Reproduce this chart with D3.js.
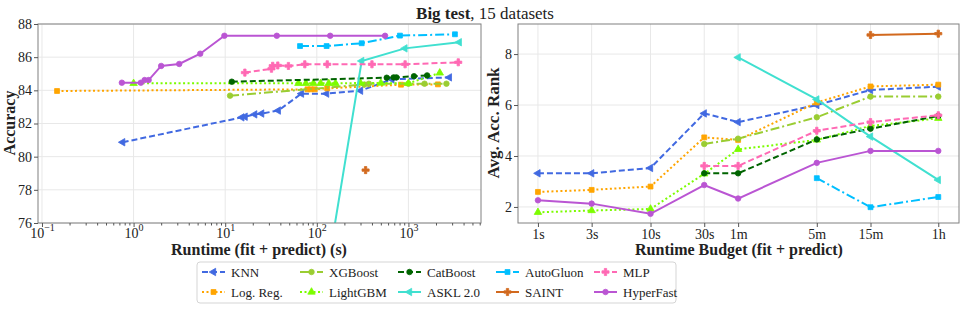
<!DOCTYPE html>
<meta charset="utf-8">
<title>Big test, 15 datasets</title>
<style>
body { margin: 0; background: #fff; }
svg text { font-family: "Liberation Serif", "DejaVu Serif", serif; fill: #222; }
.grid line { stroke: #e8e8e8; stroke-width: 1; }
.frame { fill: none; stroke: #808080; stroke-width: 1; }
.axis path { display: none; }
.axis line { stroke: #555; }
.axis text { font-size: 14px; }
</style>
<body>
<script src="https://cdnjs.cloudflare.com/ajax/libs/d3/7.8.5/d3.min.js"></script>
<script>
'use strict';

// ---- left panel: runtime (s) vs accuracy ----
const knnTime = [0.76, 15.2, 16.5, 21, 25, 38, 68, 128, 300, 660, 2800];
const knnAcc  = [80.87, 82.37, 82.41, 82.55, 82.6, 82.78, 83.8, 83.8, 83.98, 84.66, 84.78];
const lrTime = [0.146, 79, 86, 95, 130, 830, 2100];
const lrAcc  = [83.96, 84.06, 84.06, 84.06, 84.12, 84.34, 84.36];
const xgbTime = [11.3, 330, 370, 1000, 1500, 2600];
const xgbAcc  = [83.68, 84.35, 84.4, 84.4, 84.4, 84.4];
const lgbTime = [1.0, 63, 76, 92, 110, 135, 160, 300, 500, 1000, 2200];
const lgbAcc  = [84.42, 84.42, 84.42, 84.42, 84.42, 84.42, 84.42, 84.44, 84.44, 84.42, 85.05];
const catTime = [11.8, 580, 690, 740, 1150, 1600];
const catAcc  = [84.52, 84.76, 84.78, 84.78, 84.85, 84.9];
const askTime = [100, 309, 916, 3590];
const askAcc  = [69.3, 85.77, 86.53, 86.9];
const agTime = [65.6, 128, 309, 808, 3220];
const agAcc  = [86.67, 86.67, 86.84, 87.3, 87.38];
const saintTime = [341];
const saintAcc  = [79.19];
const mlpTime = [16.4, 32, 33, 37.5, 49, 74, 130, 400, 920, 3500];
const mlpAcc  = [85.07, 85.3, 85.48, 85.5, 85.47, 85.57, 85.57, 85.57, 85.57, 85.69];
const hfTime = [0.745, 1.2, 1.32, 1.46, 2.0, 3.15, 5.34, 9.8, 36.6, 140, 556];
const hfAcc  = [84.46, 84.46, 84.62, 84.62, 85.47, 85.59, 86.21, 87.29, 87.29, 87.29, 87.29];

// ---- right panel: budget vs average accuracy rank ----
const budgetLabels = ["1s", "3s", "10s", "30s", "1m", "5m", "15m", "1h"];
const budgetSec = [1, 3, 10, 30, 60, 300, 900, 3600];
const knnRank = [3.32, 3.32, 3.53, 5.67, 5.33, 6.0, 6.59, 6.72];
const lrRank  = [2.59, 2.67, 2.8, 4.73, 4.63, 6.1, 6.73, 6.8];
const xgbRank = [null, null, null, 4.47, 4.68, 5.52, 6.33, 6.33];
const lgbRank = [1.79, 1.86, 1.92, 3.3, 4.26, 4.63, 5.18, 5.48];
const catRank = [null, null, null, 3.32, 3.32, 4.65, 5.07, 5.57];
const askRank = [null, null, null, null, 7.87, 6.22, 4.76, 3.06];
const agRank  = [null, null, null, null, null, 3.13, 1.99, 2.39];
const saintRank = [null, null, null, null, null, null, 8.75, 8.8];
const mlpRank = [null, null, null, 3.61, 3.61, 4.99, 5.33, 5.6];
const hfRank  = [2.26, 2.13, 1.73, 2.86, 2.33, 3.73, 4.2, 4.2];

const methods = [
  {name: "KNN",       color: "#4169e1", dash: "6,3",     marker: "left",    t: knnTime,   a: knnAcc,   r: knnRank},
  {name: "Log. Reg.", color: "#ffa500", dash: "2,2.5",   marker: "square",  t: lrTime,    a: lrAcc,    r: lrRank},
  {name: "XGBoost",   color: "#9acd32", dash: "9,3,2,3", marker: "diamond", t: xgbTime,   a: xgbAcc,   r: xgbRank},
  {name: "LightGBM",  color: "#7cfc00", dash: "2,2.5",   marker: "up",      t: lgbTime,   a: lgbAcc,   r: lgbRank},
  {name: "CatBoost",  color: "#006400", dash: "6,3",     marker: "circle",  t: catTime,   a: catAcc,   r: catRank},
  {name: "ASKL 2.0",  color: "#40e0d0", dash: null,      marker: "left",    t: askTime,   a: askAcc,   r: askRank},
  {name: "AutoGluon", color: "#00bfff", dash: "9,3,2,3", marker: "square",  t: agTime,    a: agAcc,    r: agRank},
  {name: "SAINT",     color: "#d2691e", dash: null,      marker: "plus",    t: saintTime, a: saintAcc, r: saintRank},
  {name: "MLP",       color: "#ff69b4", dash: "6,3",     marker: "plus",    t: mlpTime,   a: mlpAcc,   r: mlpRank},
  {name: "HyperFast", color: "#ba55d3", dash: null,      marker: "circle",  t: hfTime,    a: hfAcc,    r: hfRank}
];

const W = 969, H = 310;
const svg = d3.select("body").append("svg").attr("width", W).attr("height", H);

const symType = {
  left: d3.symbolTriangle, up: d3.symbolTriangle, square: d3.symbolSquare,
  diamond: d3.symbolCircle, circle: d3.symbolCircle, plus: d3.symbolCross
};
var drawMarker = function(g, m, x, y, color) {
  g.append("path")
    .attr("d", d3.symbol().type(symType[m]).size(m === "plus" ? 28 : 24)())
    .attr("transform", "translate(" + x + "," + y + ")" + (m === "left" ? " rotate(-90)" : ""))
    .attr("fill", color).attr("stroke", color).attr("stroke-width", 0.8);
};

var drawSeries = function(g, pts, xs, ys, d) {
  const line = d3.line().x((p) => xs(p[0])).y((p) => ys(p[1]));
  g.append("path").datum(pts)
    .attr("d", line).attr("fill", "none")
    .attr("stroke", d.color).attr("stroke-width", 2)
    .attr("stroke-dasharray", d.dash);
  pts.forEach((p) => drawMarker(g, d.marker, xs(p[0]), ys(p[1]), d.color));
};

var sup = function(sel, exp) {
  sel.text("10").append("tspan").attr("dy", -7).attr("font-size", "10px").text(exp);
};

// ================= left panel =================
const L = {x0: 38, x1: 481, y0: 24, y1: 223};
const xL = d3.scaleLog().domain([0.0905, 6200]).range([L.x0, L.x1]);
const yL = d3.scaleLinear().domain([76, 88]).range([L.y1, L.y0]);
const gL = svg.append("g");

const xMajor = [0.1, 1, 10, 100, 1000];
const xMinor = [];
[0.1, 1, 10, 100, 1000].forEach((b) => { for (let k = 2; k <= 9; k++) if (b * k < 6200) xMinor.push(b * k); });
const yTicksL = d3.range(76, 89, 2);

const gridL = gL.append("g").attr("class", "grid");
gridL.selectAll(".v").data(xMajor).enter().append("line")
  .attr("x1", (d) => xL(d)).attr("x2", (d) => xL(d)).attr("y1", L.y0).attr("y2", L.y1);
gridL.selectAll(".h").data(yTicksL).enter().append("line")
  .attr("x1", L.x0).attr("x2", L.x1).attr("y1", (d) => yL(d)).attr("y2", (d) => yL(d));

gL.append("clipPath").attr("id", "clipL").append("rect")
  .attr("x", L.x0).attr("y", L.y0).attr("width", L.x1 - L.x0).attr("height", L.y1 - L.y0);
const plotL = gL.append("g").attr("clip-path", "url(#clipL)");
methods.forEach((d) => {
  drawSeries(plotL, d.t.map((t, i) => [t, d.a[i]]), xL, yL, d);
});

gL.append("rect").attr("class", "frame")
  .attr("x", L.x0).attr("y", L.y0).attr("width", L.x1 - L.x0).attr("height", L.y1 - L.y0);

const axXL = gL.append("g").attr("class", "axis").attr("transform", "translate(0," + L.y1 + ")");
axXL.call(d3.axisBottom(xL).tickValues(xMinor).tickSize(2.5).tickFormat(""));
const majL = axXL.append("g");
majL.call(d3.axisBottom(xL).tickValues(xMajor).tickSize(4).tickFormat(""));
majL.selectAll(".tick").append("text").attr("y", 15).attr("text-anchor", "middle")
  .attr("font-size", "14px").attr("fill", "#222")
  .each(function(d) { sup(d3.select(this), String(Math.round(Math.log10(d))).replace("-", "\u2212")); });
gL.append("g").attr("class", "axis").attr("transform", "translate(" + L.x0 + ",0)")
  .call(d3.axisLeft(yL).tickValues(yTicksL).tickSize(4).tickPadding(2));

gL.append("text").attr("x", 259).attr("y", 255).attr("text-anchor", "middle")
  .attr("font-size", "16px").attr("font-weight", "bold").text("Runtime (fit + predict) (s)");
gL.append("text").attr("transform", "translate(15,123) rotate(-90)").attr("text-anchor", "middle")
  .attr("font-size", "16px").attr("font-weight", "bold").text("Accuracy");

// ================= right panel =================
const R = {x0: 518, x1: 959, y0: 24, y1: 223};
const xR = d3.scaleLog().domain([0.665, 5500]).range([R.x0, R.x1]);
const yR = d3.scaleLinear().domain([1.37, 9.18]).range([R.y1, R.y0]);
const gR = svg.append("g");
const yTicksR = [2, 4, 6, 8];

const gridR = gR.append("g").attr("class", "grid");
gridR.selectAll(".v").data(budgetSec).enter().append("line")
  .attr("x1", (d) => xR(d)).attr("x2", (d) => xR(d)).attr("y1", R.y0).attr("y2", R.y1);
gridR.selectAll(".h").data(yTicksR).enter().append("line")
  .attr("x1", R.x0).attr("x2", R.x1).attr("y1", (d) => yR(d)).attr("y2", (d) => yR(d));

methods.forEach((d) => {
  const pts = budgetSec.map((s, i) => [s, d.r[i]]).filter((p) => p[1] != null);
  drawSeries(gR, pts, xR, yR, d);
});

gR.append("rect").attr("class", "frame")
  .attr("x", R.x0).attr("y", R.y0).attr("width", R.x1 - R.x0).attr("height", R.y1 - R.y0);
gR.append("g").attr("class", "axis").attr("transform", "translate(0," + R.y1 + ")")
  .call(d3.axisBottom(xR).tickValues(budgetSec).tickSize(4).tickPadding(2)
    .tickFormat((d, i) => budgetLabels[i]));
gR.append("g").attr("class", "axis").attr("transform", "translate(" + R.x0 + ",0)")
  .call(d3.axisLeft(yR).tickValues(yTicksR).tickSize(4).tickPadding(2));

gR.append("text").attr("x", 739).attr("y", 255).attr("text-anchor", "middle")
  .attr("font-size", "16px").attr("font-weight", "bold").text("Runtime Budget (fit + predict)");
gR.append("text").attr("transform", "translate(499,123) rotate(-90)").attr("text-anchor", "middle")
  .attr("font-size", "17px").attr("font-weight", "bold").text("Avg. Acc. Rank");

// ================= title =================
const title = svg.append("text").attr("x", 485).attr("y", 19).attr("text-anchor", "middle")
  .attr("font-size", "17px");
title.append("tspan").attr("font-weight", "bold").text("Big test");
title.append("tspan").text(", 15 datasets");

// ================= legend =================
const lg = svg.append("g");
lg.append("rect").attr("x", 197).attr("y", 262).attr("width", 479).attr("height", 41)
  .attr("rx", 3).attr("fill", "#fff").attr("stroke", "#d5d5d5");
methods.forEach((d, i) => {
  const col = Math.floor(i / 2), row = i % 2;
  const x = 202 + col * 98, y = 272 + row * 20;
  lg.append("line").attr("x1", x).attr("x2", x + 23).attr("y1", y).attr("y2", y)
    .attr("stroke", d.color).attr("stroke-width", 2).attr("stroke-dasharray", d.dash);
  drawMarker(lg, d.marker, x + 11.5, y, d.color);
  lg.append("text").attr("x", x + 29).attr("y", y + 4.5).attr("font-size", "13px").text(d.name);
});
</script>
</body>
